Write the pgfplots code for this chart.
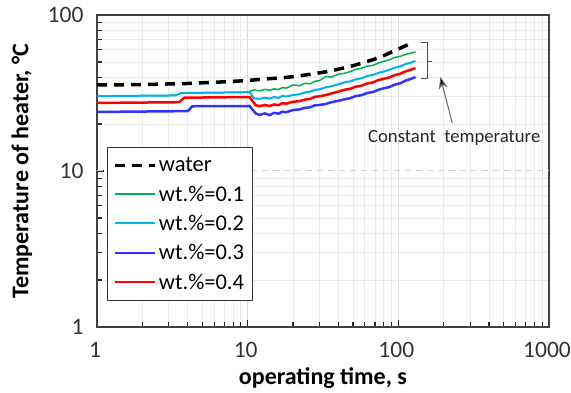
\documentclass[border=0pt]{standalone}
\usepackage{fontspec}
\setmainfont{Carlito}
\usepackage{pgfplots}
\pgfplotsset{compat=1.18}
\usetikzlibrary{arrows.meta}
\definecolor{cgreen}{RGB}{0,176,80}
\definecolor{ccyan}{RGB}{0,176,240}
\definecolor{cblue}{RGB}{51,51,255}
\definecolor{cred}{RGB}{255,0,0}
\begin{document}
\begin{tikzpicture}
\useasboundingbox (-97pt,-66pt) rectangle (474pt,327pt);
\begin{axis}[
  at={(0,0)}, anchor=south west,
  scale only axis, width=452pt, height=312pt,
  xmode=log, ymode=log,
  xmin=1, xmax=1000, ymin=1, ymax=100,
  xtick={1,10,100,1000}, xticklabels={1,10,100,1000},
  ytick={1,10,100}, yticklabels={1,10,100},
  minor xtick={2,3,4,5,6,7,8,9,20,30,40,50,60,70,80,90,200,300,400,500,600,700,800,900},
  minor ytick={2,3,4,5,6,7,8,9,20,30,40,50,60,70,80,90},
  xtick pos=bottom, ytick pos=left,
  tick align=inside,
  major tick length=7pt, minor tick length=5pt,
  tick style={black!85, line width=1.1pt},
  axis line style={draw=black!75, line width=1.3pt},
  xmajorgrids=true, xminorgrids=true, yminorgrids=true, ymajorgrids=false,
  major grid style={black!14, line width=0.9pt},
  minor grid style={black!8, line width=0.9pt},
  tick label style={font=\fontsize{23.5}{27}\selectfont, text=black!80},
  xticklabel style={yshift=-12pt, xshift=-2pt},
  yticklabel style={xshift=-10pt},
  xlabel={\textbf{operating time, s}},
  ylabel={\textbf{Temperature of heater, °C}},
  xlabel style={at={(axis description cs:0.5,-0.163)}, anchor=center, font=\fontsize{24}{28}\selectfont},
  ylabel style={at={(axis description cs:-0.166,0.5)}, anchor=center, font=\fontsize{24}{28}\selectfont},
  legend style={at={(rel axis cs:0.022,0.577)}, anchor=north west, fill=white,
    draw=black!80, line width=1pt, font=\fontsize{22.5}{25}\selectfont,
    row sep=8.5pt, inner xsep=6pt, inner ysep=8pt},
  legend cell align=left,
  legend image code/.code={\draw[#1] (0pt,0pt) -- (40pt,0pt);},
]
% dashed major gridline at y=10
\addplot[forget plot, black!18, line width=1pt, dash pattern=on 6pt off 5pt] coordinates {(1,10) (1000,10)};

\addplot[black, line width=3.5pt, dash pattern=on 10pt off 7pt] coordinates {
(1,35.6) (2,35.8) (4,36.4) (7,37.3) (10,38.0) (13,38.9) (17,39.6) (20,40.2) (27,41.9) (35,43.6) (50,47.3) (67,51.5) (80,54.8) (91,58.2) (105,61.8) (122,66)};
\addlegendentry{water}

\addplot[cgreen, line width=1.5pt] coordinates {
(1,30.2) (3.3,30.5) (3.6,31.6) (10,32.0) (10.5,32.6) (11,33.1) (12,32.6) (13,33.4) (14,32.9) (15,33.6) (16,33.3) (17,34.2) (18,34.0) (20,35.6) (22,35.2) (24,36.5) (26,36.2) (28,37.6) (30,38.0) (33,40.3) (36,40.0) (40,41.8) (44,42.3) (48,43.4) (52,44.8) (57,45.6) (62,47.0) (68,47.6) (74,49.3) (80,50.4) (87,51.6) (95,53.5) (103,54.3) (112,56.0) (120,56.8) (130,58.0)};
\addlegendentry{wt.\%=0.1}

\addplot[ccyan, line width=2pt] coordinates {
(1,30.2) (3.3,30.5) (3.6,31.6) (10,32.0) (10.3,32.0) (11,29.2) (12,29.0) (13,29.5) (14,29.1) (15,29.8) (16,29.4) (17,30.3) (18,30.0) (20,30.7) (22,31.0) (24,31.9) (26,32.3) (28,33.1) (30,33.4) (33,34.4) (36,34.9) (40,36.0) (44,37.0) (48,37.6) (52,38.6) (57,39.3) (62,40.6) (68,41.3) (74,42.6) (80,43.4) (87,44.5) (95,46.0) (103,46.9) (112,48.5) (120,49.4) (130,50.7)};
\addlegendentry{wt.\%=0.2}

\addplot[cblue, line width=2.5pt] coordinates {
(1,23.9) (4,24.2) (4.3,26.0) (10,26.1) (10.3,26.1) (11.3,23.4) (12,22.9) (13,23.4) (14,22.8) (15,23.6) (16,23.3) (17,24.0) (18,23.8) (20,24.6) (22,24.8) (24,25.4) (26,25.6) (28,26.4) (30,26.5) (33,26.9) (36,27.6) (40,28.2) (44,28.8) (48,29.3) (52,30.2) (57,30.6) (62,31.6) (68,32.1) (74,33.2) (80,33.9) (87,34.5) (95,35.8) (103,36.5) (112,38.0) (120,38.8) (130,40.0)};
\addlegendentry{wt.\%=0.3}

\addplot[cred, line width=2.5pt] coordinates {
(1,27.3) (3.5,27.6) (3.8,29.5) (10,29.8) (10.3,29.8) (11.3,26.4) (12,26.0) (13,26.5) (14,26.1) (15,26.7) (16,26.4) (17,27.2) (18,27.0) (20,27.8) (22,28.0) (24,28.7) (26,29.0) (28,29.9) (30,30.1) (33,30.7) (36,31.4) (40,32.3) (44,33.2) (48,33.6) (52,34.7) (57,35.2) (62,36.4) (68,37.0) (74,38.3) (80,39.0) (87,39.8) (95,41.2) (103,42.0) (112,43.6) (120,44.4) (130,45.7)};
\addlegendentry{wt.\%=0.4}

% bracket annotation
\draw[black!70, line width=1pt] (axis cs:142,67.1) -- (axis cs:156,67.1) -- (axis cs:156,38.9) -- (axis cs:142,38.9);
\draw[black!70, line width=1pt] (axis cs:156,50.7) -- (axis cs:168,50.7);
\draw[black!60, line width=1pt, -{Stealth[length=12pt,width=9pt,fill=black]}] (axis cs:228,20.3) -- (axis cs:190,40.1);
\node[font=\fontsize{18.7}{22}\selectfont, text=black!85] at (axis cs:235,16.3) {Constant\ \ temperature};
\end{axis}
\end{tikzpicture}
\end{document}
